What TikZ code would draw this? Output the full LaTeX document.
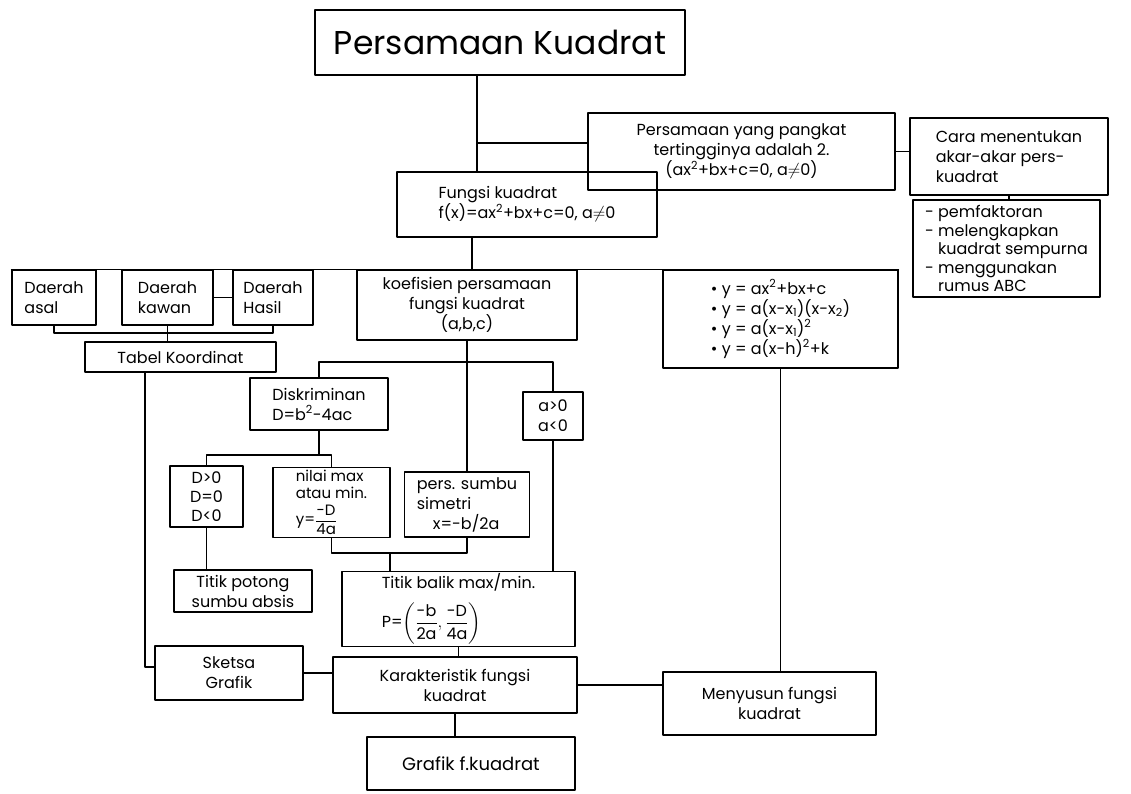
\documentclass[tikz,border=0pt]{standalone}
\usepackage{amsmath}
\usepackage{fontspec}
\setmainfont{Poppins}
\usepackage{tikz}

\begin{document}
\begin{tikzpicture}[line cap=round,line join=round,x=1pt,y=-1pt,
		kotak/.style={draw,line width=1.2pt,align=center,inner sep=2pt,font=\fontsize{16}{20}\selectfont},
		garis/.style={line width=1.2pt}]
			\useasboundingbox (0,0) rectangle (1131,793);
			\node[kotak,minimum width=370pt,minimum height=65pt,font=\fontsize{33}{38}\selectfont] (judul) at (500,42.5) {Persamaan Kuadrat};
			\node[kotak,minimum width=307pt,minimum height=77pt] (persamaan) at (741.5,151.5) {Persamaan yang pangkat\\ tertingginya adalah 2.\\ (ax\textsuperscript{2}+bx+c=0, a$\neq$0)};
			\node[kotak,align=left,minimum width=198pt,minimum height=77pt] (cara) at (1009,156.5) {Cara menentukan\\ akar-akar pers-\\ kuadrat};
			\node[kotak,align=left,minimum width=187pt,minimum height=97pt,font=\fontsize{16}{18.5}\selectfont] (daftar) at (1006.5,248.5) {- pemfaktoran\\ - melengkapkan\\ \phantom{- }kuadrat sempurna\\ - menggunakan\\ \phantom{- }rumus ABC};
			\node[kotak,align=left,minimum width=260pt,minimum height=65pt] (fungsi) at (527,204.5) {Fungsi kuadrat\\ f(x)=ax\textsuperscript{2}+bx+c=0, a$\neq$0};
			\node[kotak,align=left,minimum width=84pt,minimum height=55pt] (asal) at (54,297.5) {Daerah\\ asal};
			\node[kotak,align=left,minimum width=91pt,minimum height=55pt] (kawan) at (167.5,297.5) {Daerah\\ kawan};
			\node[kotak,align=left,minimum width=80pt,minimum height=55pt] (hasil) at (273,297.5) {Daerah\\ Hasil};
			\node[kotak,minimum width=220pt,minimum height=70pt] (koefisien) at (467,305) {koefisien persamaan\\ fungsi kuadrat\\ (a,b,c)};
			\node[kotak,align=left,minimum width=235pt,minimum height=98pt] (rumus) at (780.5,319) {\textbullet\ y = ax\textsuperscript{2}+bx+c\\ \textbullet\ y = a(x-x\textsubscript{1})(x-x\textsubscript{2})\\ \textbullet\ y = a(x-x\textsubscript{1})\textsuperscript{2}\\ \textbullet\ y = a(x-h)\textsuperscript{2}+k};
			\node[kotak,minimum width=191pt,minimum height=30pt] (tabel) at (180.5,357) {Tabel Koordinat};
			\node[kotak,align=left,minimum width=138pt,minimum height=52pt] (diskriminan) at (319,404) {Diskriminan\\ D=b\textsuperscript{2}-4ac};
			\node[kotak,minimum width=60pt,minimum height=48pt] (tanda) at (553,416) {a>0\\ a<0};
			\node[kotak,minimum width=73pt,minimum height=61pt,font=\fontsize{16}{19}\selectfont] (kasusD) at (206.5,496.5) {D>0\\ D=0\\ D<0};
			\node[kotak,align=left,minimum width=117pt,minimum height=59pt,inner sep=3pt,font=\fontsize{15}{17}\selectfont] (nilai) at (331.5,502.5) {nilai max\\ atau min.\\[5pt] y=$\displaystyle\frac{\text{-D}}{\text{4a}}$};
			\node[kotak,align=left,minimum width=125pt,minimum height=65pt] (sumbu) at (467,504.5) {pers. sumbu\\ simetri\\ \quad x=-b/2a};
			\node[kotak,minimum width=138pt,minimum height=42pt] (potong) at (243,591) {Titik potong\\ sumbu absis};
			\node[kotak,align=left,minimum width=233pt,minimum height=68pt] (balik) at (458.5,609) {Titik balik max/min.\\[10pt] P=$\displaystyle\left(\frac{\text{-b}}{\text{2a}},\frac{\text{-D}}{\text{4a}}\right)$};
			\node[kotak,minimum width=148pt,minimum height=54pt] (sketsa) at (229,673) {Sketsa\\ Grafik};
			\node[kotak,minimum width=244pt,minimum height=56pt] (karakter) at (455,685) {Karakteristik fungsi\\ kuadrat};
			\node[kotak,minimum width=213pt,minimum height=63pt] (menyusun) at (769.5,703.5) {Menyusun fungsi\\ kuadrat};
			\node[kotak,minimum width=208pt,minimum height=53pt,font=\fontsize{18}{22}\selectfont] (grafik) at (471,763.5) {Grafik f.kuadrat};
			\coordinate (cabang1) at (477,143);
			\coordinate (cabang2) at (472,270);
			\coordinate (cabang3) at (0,333);
			\coordinate (cabang4) at (145,667);
			\coordinate (cabang5) at (0,362);
			\coordinate (cabang6) at (0,455);
			\coordinate (cabang7) at (390,553);
			\draw[garis] (cabang1 |- judul.south) -- (cabang1 |- fungsi.north);
			\draw[garis] (cabang1) -- (cabang1 -| persamaan.west);
			\draw[garis] (persamaan.east) -- (persamaan.east -| cara.west);
			\draw[garis] (cara.south) -- (cara.south |- daftar.north);
			\draw[garis] (cabang2 |- fungsi.south) -- (cabang2);
			\draw[garis] (asal.north west) -- (rumus.north east);
			\draw[garis] (kawan.east) -- (hasil.west);
			\draw[garis] (asal.south) |- (cabang3 -| hasil.south) -- (hasil.south);
			\draw[garis] (kawan.south) -- (kawan.south |- tabel.north);
			\draw[garis] (cabang4 |- tabel.south) -- (cabang4) -- (cabang4 -| sketsa.west);
			\draw[garis] (koefisien.south) -- (sumbu.north);
			\draw[garis] (diskriminan.north) |- (cabang5 -| tanda.north) -- (tanda.north);
			\draw[garis] (diskriminan.south) -- (diskriminan.south |- cabang6);
			\draw[garis] (kasusD.north) |- (cabang6 -| nilai.north) -- (nilai.north);
			\draw[garis] (kasusD.south) -- (kasusD.south |- potong.north);
			\draw[garis] (nilai.south) |- (cabang7 -| sumbu.south) -- (sumbu.south);
			\draw[garis] (cabang7) -- (cabang7 |- balik.north);
			\draw[garis] (tanda.south) -- (tanda.south |- balik.north);
			\draw[garis] (balik.south) -- (balik.south |- karakter.north);
			\draw[garis] (sketsa.east) -- (sketsa.east -| karakter.west);
			\draw[garis] (karakter.east) -- (karakter.east -| menyusun.west);
			\draw[garis] (rumus.south) -- (rumus.south |- menyusun.north);
			\draw[garis] (karakter.south) -- (karakter.south |- grafik.north);
\end{tikzpicture}
\end{document}
